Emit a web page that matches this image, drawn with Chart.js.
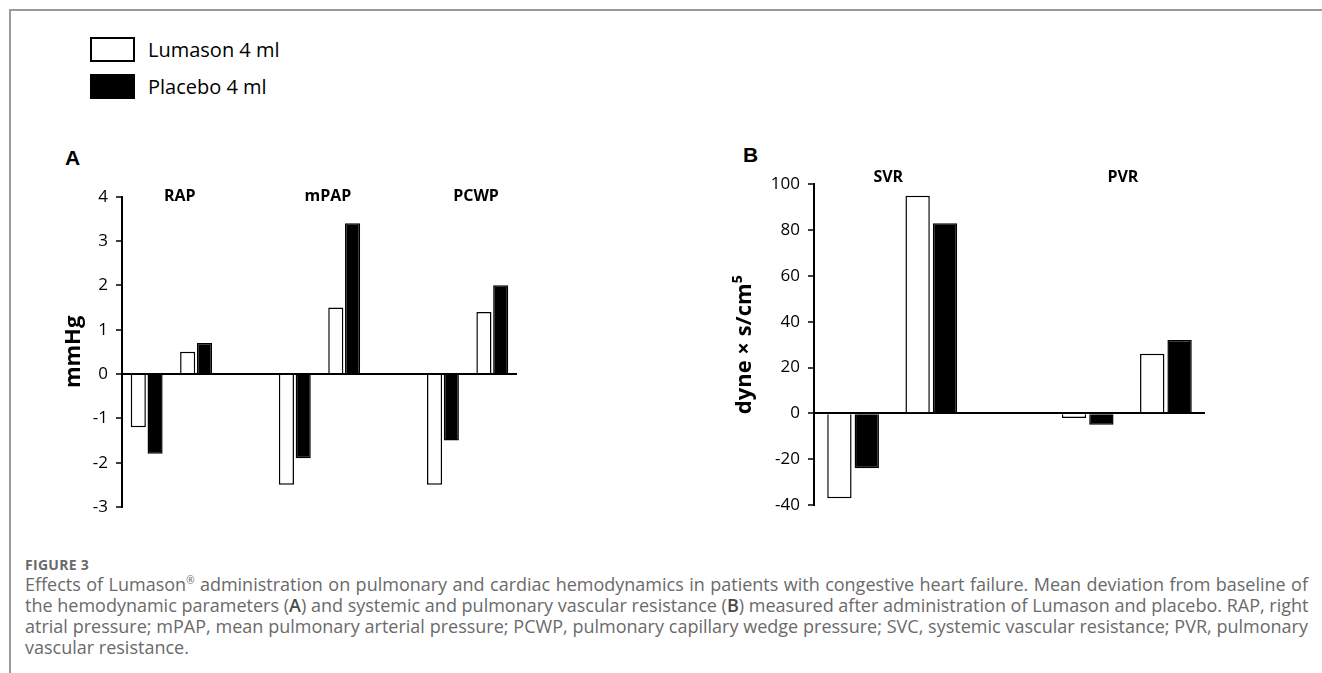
<!DOCTYPE html>
<html>
<head>
<meta charset="utf-8">
<script src="https://cdn.jsdelivr.net/npm/chart.js@4.4.0/dist/chart.umd.min.js"></script>
<style>
  html, body { margin: 0; padding: 0; background: #ffffff; }
  body { width: 1322px; height: 673px; position: relative; overflow: hidden; font-family: "Open Sans", sans-serif; }
  #frame { position: absolute; left: 9px; top: 9px; width: 1400px; height: 700px; border-left: 2px solid #9a9a9a; border-top: 2px solid #9a9a9a; }
  #legend { position: absolute; left: 90px; top: 37px; }
  .leg-item { display: flex; align-items: center; height: 25px; margin-bottom: 12px; }
  .leg-box { width: 41px; height: 21px; border: 2px solid #000; box-sizing: content-box; margin-right: 13px; }
  .leg-text { font-size: 20px; color: #000; line-height: 25px; }
  .panel-letter { position: absolute; font-family: "Liberation Sans", Arial, sans-serif; font-weight: bold; font-size: 21px; line-height: 21px; color: #000; }
  canvas { position: absolute; }
  #figlabel { position: absolute; left: 25px; top: 556px; font-size: 14px; line-height: 17px; font-weight: bold; color: #6a6a6a; letter-spacing: 0.3px; }
  #caption { position: absolute; left: 25px; top: 574px; width: 1283px; font-size: 18px; line-height: 21px; color: #6a6a6a; }
  #caption .ln { text-align: justify; text-align-last: justify; white-space: nowrap; }
  #caption .ln.last { text-align-last: left; }
  #caption b { font-weight: 600; color: #4a4a4a; }
  sup { font-size: 10px; line-height: 0; vertical-align: 7px; }
</style>
</head>
<body>
<div id="frame"></div>
<div id="legend"></div>
<div class="panel-letter" style="left:65px; top:147px;">A</div>
<div class="panel-letter" style="left:743px; top:144px;">B</div>
<canvas id="chartA" width="540" height="390" style="left:0px; top:140px; width:540px; height:390px;"></canvas>
<canvas id="chartB" width="530" height="390" style="left:700px; top:140px; width:530px; height:390px;"></canvas>
<div id="figlabel">FIGURE 3</div>
<div id="caption">
  <div class="ln">Effects of Lumason<sup>®</sup> administration on pulmonary and cardiac hemodynamics in patients with congestive heart failure. Mean deviation from baseline of</div>
  <div class="ln">the hemodynamic parameters (<b>A</b>) and systemic and pulmonary vascular resistance (<b>B</b>) measured after administration of Lumason and placebo. RAP, right</div>
  <div class="ln">atrial pressure; mPAP, mean pulmonary arterial pressure; PCWP, pulmonary capillary wedge pressure; SVC, systemic vascular resistance; PVR, pulmonary</div>
  <div class="ln last">vascular resistance.</div>
</div>
<script>
// ---------- DATA ----------
const seriesNames = ['Lumason 4 ml', 'Placebo 4 ml'];
const seriesFill = ['#ffffff', '#000000'];

// Panel A: hemodynamic parameters, mmHg (two bars per treatment within each parameter)
const groupsA = ['RAP', 'mPAP', 'PCWP'];
const lumasonA1 = [-1.2, -2.5, -2.5];
const placeboA1 = [-1.8, -1.9, -1.5];
const lumasonA2 = [0.5, 1.5, 1.4];
const placeboA2 = [0.7, 3.4, 2.0];
const yTicksA = [-3, -2, -1, 0, 1, 2, 3, 4];

// Panel B: vascular resistance, dyne × s/cm5
const groupsB = ['SVR', 'PVR'];
const lumasonB1 = [-37, -2];
const placeboB1 = [-24, -5];
const lumasonB2 = [95, 26];
const placeboB2 = [83, 32];
const yTicksB = [-40, -20, 0, 20, 40, 60, 80, 100];

// ---------- HELPERS ----------
Chart.defaults.font.family = '"Open Sans", sans-serif';
Chart.defaults.color = '#000';

function buildSlots(groups, l1, p1, l2, p2) {
  const labels = [], lum = [], pla = [], starts = [];
  groups.forEach((g, i) => {
    if (i > 0) { labels.push(''); lum.push(null); pla.push(null); }
    starts.push(labels.length);
    labels.push(g); lum.push(l1[i]); pla.push(p1[i]);
    labels.push(g); lum.push(l2[i]); pla.push(p2[i]);
  });
  return { labels, lum, pla, starts };
}

const groupLabelPlugin = {
  id: 'groupLabels',
  afterDatasetsDraw(chart, args, opts) {
    const xs = chart.scales.x;
    const ctx = chart.ctx;
    const slot = xs.getPixelForValue(1) - xs.getPixelForValue(0);
    ctx.save();
    ctx.font = 'bold 16px "Open Sans", sans-serif';
    ctx.fillStyle = '#000';
    ctx.textAlign = 'center';
    ctx.textBaseline = 'alphabetic';
    opts.groups.forEach((g, i) => {
      const s = opts.starts[i];
      const cx = (xs.getPixelForValue(s) + xs.getPixelForValue(s + 1)) / 2 + opts.shift * slot;
      ctx.fillText(g, cx, chart.chartArea.top + opts.dy);
    });
    ctx.restore();
  }
};

function makeChart(id, slots, groups, ticks, cfg) {
  const ctx = document.getElementById(id).getContext('2d');
  return new Chart(ctx, {
    type: 'bar',
    data: {
      labels: slots.labels,
      datasets: [
        { label: seriesNames[0], data: slots.lum, backgroundColor: seriesFill[0], borderColor: '#000', borderWidth: 1.5,
          categoryPercentage: cfg.cp, barPercentage: cfg.bp },
        { label: seriesNames[1], data: slots.pla, backgroundColor: seriesFill[1], borderColor: '#000', borderWidth: 1.5,
          categoryPercentage: cfg.cp, barPercentage: cfg.bp }
      ]
    },
    options: {
      responsive: false,
      animation: false,
      layout: { padding: cfg.padding },
      plugins: {
        legend: { display: false },
        tooltip: { enabled: false },
        groupLabels: { groups: groups, starts: slots.starts, shift: cfg.shift, dy: cfg.dy }
      },
      scales: {
        x: { type: 'category', display: false, offset: true, grid: { display: false } },
        y: {
          z: 1,
          min: ticks[0],
          max: ticks[ticks.length - 1],
          afterBuildTicks: (s) => { s.ticks = ticks.map(v => ({ value: v })); },
          afterFit: (s) => { s.width = cfg.axisWidth; },
          ticks: { color: '#000', font: { size: 17 }, padding: 8 },
          grid: {
            drawOnChartArea: true,
            color: (c) => (c.tick && c.tick.value === 0) ? '#000' : 'rgba(0,0,0,0)',
            lineWidth: 2,
            drawTicks: true,
            tickLength: 6,
            tickColor: '#000',
            tickWidth: 1.5
          },
          border: { display: true, color: '#000', width: 2 },
          title: {
            display: true,
            text: cfg.title,
            color: '#000',
            font: { size: 22, weight: 'bold' },
            padding: { top: cfg.titlePad, bottom: 0 }
          }
        }
      }
    },
    plugins: [groupLabelPlugin]
  });
}

// ---------- LEGEND ----------
const legendEl = document.getElementById('legend');
seriesNames.forEach((name, i) => {
  const item = document.createElement('div');
  item.className = 'leg-item';
  const box = document.createElement('div');
  box.className = 'leg-box';
  box.style.background = seriesFill[i];
  const txt = document.createElement('div');
  txt.className = 'leg-text';
  txt.textContent = name;
  item.appendChild(box); item.appendChild(txt);
  legendEl.appendChild(item);
});

// ---------- CHARTS ----------
const slotsA = buildSlots(groupsA, lumasonA1, placeboA1, lumasonA2, placeboA2);
const slotsB = buildSlots(groupsB, lumasonB1, placeboB1, lumasonB2, placeboB2);

makeChart('chartA', slotsA, groupsA, yTicksA, {
  padding: { top: 56.7, bottom: 23, left: 0, right: 23 },
  axisWidth: 122, title: 'mmHg', titlePad: 60.8,
  cp: 0.68, bp: 0.9, shift: 0.17, dy: 4
});
makeChart('chartB', slotsB, groupsB, yTicksB, {
  padding: { top: 44.3, bottom: 25, left: 0, right: 25 },
  axisWidth: 114, title: 'dyne × s/cm⁵', titlePad: 31.8,
  cp: 0.70, bp: 0.89, shift: -0.05, dy: -2.6
});
</script>
</body>
</html>
